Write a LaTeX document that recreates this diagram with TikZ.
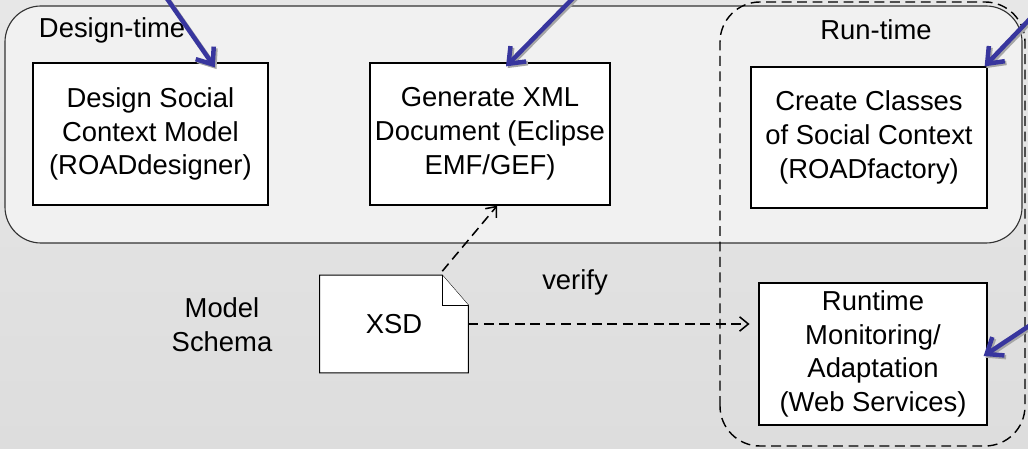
\documentclass[tikz,border=0pt]{standalone}
\usepackage{fontspec}
\setmainfont{Liberation Sans}
\usepackage{tikz}
\usetikzlibrary{arrows.meta}

\definecolor{slidetop}{HTML}{E7E7E7}
\definecolor{slidebot}{HTML}{DDDDDD}
\definecolor{phasefill}{HTML}{F1F1F1}
\definecolor{calloutblue}{RGB}{56,54,158}

\tikzset{
	every node/.style={font=\fontsize{19.5}{24}\selectfont},
	task/.style={draw,fill=white,line width=0.9pt,align=center,inner sep=0pt},
	notebox/.style={draw,fill=white,line width=0.7pt},
	phase/.style={draw=black!80,fill=phasefill,line width=0.8pt,rounded corners=0.9cm},
	runphase/.style={draw,line width=1pt,dash pattern=on 7pt off 4pt,rounded corners=1cm},
	link/.style={line width=1.1pt,dash pattern=on 7pt off 4pt,-{Straight Barb[length=2.2mm,width=3.6mm]}},
	callout/.style={draw=calloutblue,line width=3.2pt,-{Straight Barb[length=3.5mm,width=5.5mm]}},
	calloutshadow/.style={draw=black!35,line width=3.2pt,-{Straight Barb[length=3.5mm,width=5.5mm]}},
}

\begin{document}
\begin{tikzpicture}
		\useasboundingbox[top color=slidetop,bottom color=slidebot] (0,0) rectangle (25.7,11.2);
		% phases
		\draw[phase] (0.125,5.125) rectangle (25.55,11.05);
		\node[anchor=west] (designlbl) at (0.85,10.45) {Design-time};
		\draw[runphase] (18.0,0.05) rectangle (25.625,11.15);
		\node (runlbl) at (21.9,10.45) {Run-time};
		% tasks
		\node[task,minimum width=5.875cm,minimum height=3.55cm] (design) at (3.76,7.85)
			{Design Social\\Context Model\\(ROADdesigner)};
		\node[task,minimum width=6cm,minimum height=3.55cm] (gen) at (12.25,7.85)
			{Generate XML\\Document (Eclipse\\EMF/GEF)};
		\node[task,minimum width=5.9cm,minimum height=3.525cm] (create) at (21.725,7.7625)
			{Create Classes\\of Social Context\\(ROADfactory)};
		\node[task,minimum width=5.7cm,minimum height=3.55cm] (mon) at (21.825,2.35)
			{Runtime\\Monitoring/\\Adaptation\\(Web Services)};
		% schema note
		\node[minimum width=3.7cm,minimum height=2.425cm,inner sep=0pt] (xsd) at (9.85,3.1) {};
		\filldraw[notebox] (xsd.south west) -- (xsd.north west) -- ([xshift=-0.65cm]xsd.north east)
			-- ([yshift=-0.75cm]xsd.north east) -- (xsd.south east) -- cycle;
		\draw[notebox] ([xshift=-0.65cm]xsd.north east) |- ([yshift=-0.75cm]xsd.north east);
		\node at (xsd.center) {XSD};
		\node[align=center] (schemalbl) at (5.55,3.075) {Model\\Schema};
		\node (verifylbl) at (14.375,4.15) {verify};
		\draw[link] ([xshift=-0.65cm,yshift=0.1cm]xsd.north east) -- ([xshift=0.18cm]gen.south);
		\draw[link,shorten >=0.22cm] (xsd.east) -- (xsd.east -| mon.west);
		% callouts from outside
		\coordinate (s1) at (4.025,11.45);
		\coordinate (t1) at ([xshift=1.61cm,yshift=-0.125cm]design.north);
		\coordinate (s2) at (14.525,11.45);
		\coordinate (t2) at ([xshift=0.4cm,yshift=-0.1cm]gen.north);
		\coordinate (s3) at (25.95,10.94);
		\coordinate (t3) at ([xshift=-0.075cm]create.north east);
		\coordinate (s4) at (25.95,3.2);
		\coordinate (t4) at ([xshift=-0.1cm,yshift=-0.05cm]mon.east);
		\foreach \n in {1,...,4}{
			\draw[calloutshadow,transform canvas={xshift=1.2pt,yshift=-1.2pt}] (s\n) -- (t\n);
			\draw[callout] (s\n) -- (t\n);
		};
	\end{tikzpicture}
\end{document}
